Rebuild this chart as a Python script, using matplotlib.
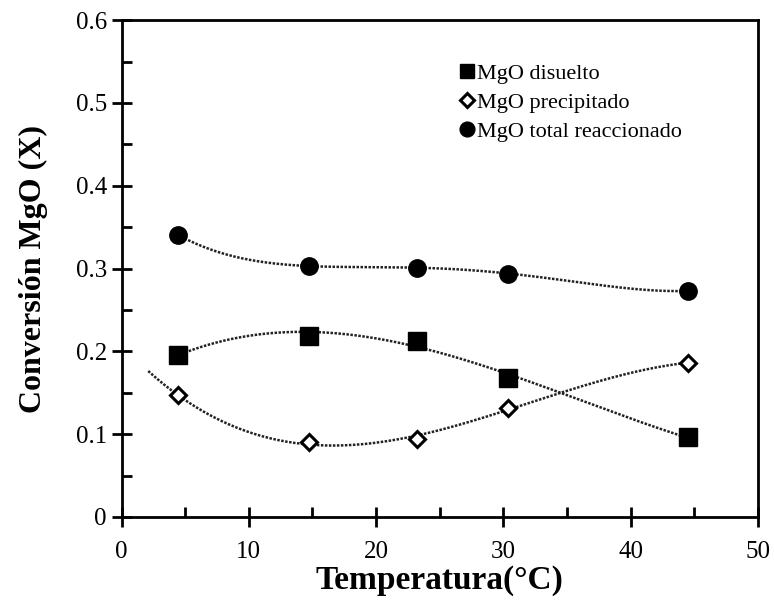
import numpy as np
import matplotlib.pyplot as plt
from matplotlib.ticker import MultipleLocator

plt.rcParams['font.family'] = ['Liberation Serif', 'DejaVu Serif']

temp = [4.4, 14.7, 23.2, 30.4, 44.5]
disuelto = [0.196, 0.219, 0.213, 0.168, 0.096]
precipitado = [0.147, 0.090, 0.094, 0.132, 0.186]
total = [0.341, 0.303, 0.301, 0.294, 0.273]

fig = plt.figure(figsize=(7.74, 6.11), dpi=100)
ax = fig.add_axes([0.157, 0.154, 0.822, 0.813])

# smooth trend curves (polynomial fits)
for y, x0, deg in [(disuelto, temp[0], 3), (precipitado, 2.1, 3), (total, temp[0], 4)]:
    c = np.polyfit(temp, y, deg)
    xs = np.linspace(x0, temp[-1], 200)
    ax.plot(xs, np.polyval(c, xs), ls=(0, (1, 0.6)), lw=1.8, color='#222222', zorder=2)

ax.plot(temp, disuelto, 's', ms=12.5, color='black', ls='none', zorder=3,
        label='MgO disuelto')
ax.plot(temp, precipitado, 'D', ms=8, mfc='white', mec='black', mew=2.2,
        ls='none', zorder=3, label='MgO precipitado')
ax.plot(temp, total, 'o', ms=12.5, color='black', ls='none', zorder=3,
        label='MgO total reaccionado')

ax.set_xlim(0, 50)
ax.set_ylim(0, 0.6)
ax.xaxis.set_major_locator(MultipleLocator(10))
ax.xaxis.set_minor_locator(MultipleLocator(5))
ax.yaxis.set_major_locator(MultipleLocator(0.1))
ax.yaxis.set_minor_locator(MultipleLocator(0.05))
ax.set_yticks(np.arange(0, 0.61, 0.1))
ax.set_yticklabels(['0', '0.1', '0.2', '0.3', '0.4', '0.5', '0.6'])
ax.tick_params(which='major', direction='inout', length=14, width=2, labelsize=18)
ax.tick_params(which='minor', direction='in', length=7, width=2)
ax.tick_params(axis='x', pad=10)
for s in ax.spines.values():
    s.set_linewidth(2)

ax.set_xlabel('Temperatura(°C)', fontsize=24, fontweight='bold', labelpad=2)
ax.set_ylabel('Conversión MgO (X)', fontsize=23, fontweight='bold', labelpad=20)

ax.legend(loc='upper left', bbox_to_anchor=(0.515, 0.935), frameon=False,
          fontsize=16, handlelength=0.6, handletextpad=0.15, labelspacing=0.38,
          borderpad=0, markerscale=0.85)

fig.savefig('out.png', dpi=100)
